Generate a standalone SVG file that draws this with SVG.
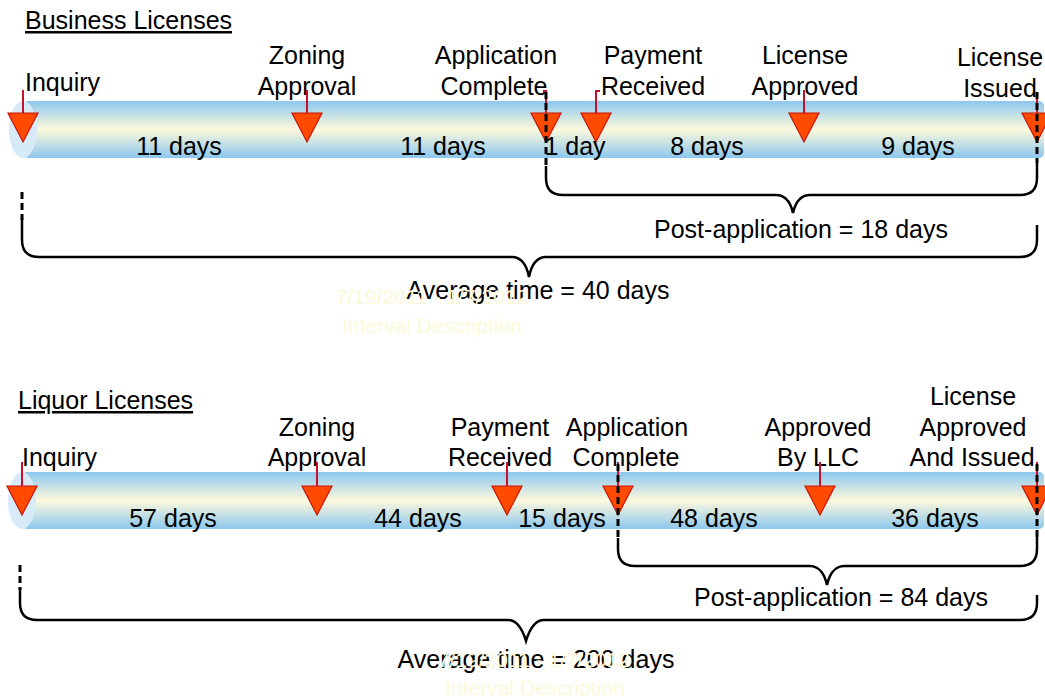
<svg xmlns="http://www.w3.org/2000/svg" width="1045" height="696" viewBox="0 0 1045 696">
<defs>
<linearGradient id="tube" x1="0" y1="0" x2="0" y2="1">
<stop offset="0" stop-color="#8cc7ee"/>
<stop offset="0.5" stop-color="#fdf9dc"/>
<stop offset="1" stop-color="#8cc7ee"/>
</linearGradient>
<polygon id="tri" points="-15,0 15,0 0,29" fill="#ff4a00" stroke="#c8140a" stroke-width="1.2"/>
</defs>
<style>
text{font-family:"Liberation Sans",Arial,sans-serif;font-size:25px;fill:#000}
.m{text-anchor:middle}
.h{text-decoration:underline}
.faint{font-size:21px;fill:#fdf8d9;text-anchor:middle}
.stem{stroke:#c8102e;stroke-width:2;fill:none}
.dash{stroke:#000;stroke-width:3;stroke-dasharray:7,4;fill:none}
.brace{stroke:#000;stroke-width:2.5;fill:none}
.cap{fill:#d6eaf8}
</style>
<rect width="1045" height="696" fill="#fff"/>

<!-- Business section -->
<g id="business-title"><text x="25" y="29" class="h">Business Licenses</text></g>
<g id="business-bar">
<rect x="23" y="101" width="1021" height="57" rx="5" fill="url(#tube)"/>
<ellipse cx="23" cy="129.5" rx="14" ry="28.5" class="cap"/>
</g>
<g id="b-inquiry"><text x="25" y="91">Inquiry</text><path class="stem" d="M23,90 V113"/><use href="#tri" x="23" y="113"/></g>
<g id="b-zoning"><text x="307" y="64" class="m">Zoning</text><text x="307" y="95" class="m">Approval</text><path class="stem" d="M307,90 V113"/><use href="#tri" x="307" y="113"/></g>
<g id="b-application"><text x="496" y="64" class="m">Application</text><text x="494" y="95" class="m">Complete</text><path class="stem" d="M543,91 H546 V113"/><use href="#tri" x="546" y="113"/></g>
<g id="b-payment"><text x="653" y="64" class="m">Payment</text><text x="653" y="95" class="m">Received</text><path class="stem" d="M600,91 H596 V113"/><use href="#tri" x="596" y="113"/></g>
<g id="b-approved"><text x="805" y="64" class="m">License</text><text x="805" y="95" class="m">Approved</text><path class="stem" d="M804,90 V113"/><use href="#tri" x="804" y="113"/></g>
<g id="b-issued"><text x="1000" y="66" class="m">License</text><text x="1000" y="97" class="m">Issued</text><path class="stem" d="M1037,92 V113"/><use href="#tri" x="1037" y="113"/></g>
<g id="b-days">
<text x="179" y="155" class="m">11 days</text>
<text x="443" y="155" class="m">11 days</text>
<text x="575" y="155" class="m">1 day</text>
<text x="707" y="155" class="m">8 days</text>
<text x="918" y="155" class="m">9 days</text>
</g>

<!-- Liquor section -->
<g id="liquor-title"><text x="18" y="409" class="h">Liquor Licenses</text></g>
<g id="liquor-bar">
<rect x="22" y="472" width="1022" height="57" rx="5" fill="url(#tube)"/>
<ellipse cx="22" cy="500.5" rx="14" ry="28.5" class="cap"/>
</g>
<g id="l-inquiry"><text x="22" y="466">Inquiry</text><path class="stem" d="M22,462 V486"/><use href="#tri" x="22" y="486"/></g>
<g id="l-zoning"><text x="317" y="436" class="m">Zoning</text><text x="317" y="466" class="m">Approval</text><path class="stem" d="M317,462 V486"/><use href="#tri" x="317" y="486"/></g>
<g id="l-payment"><text x="500" y="436" class="m">Payment</text><text x="500" y="466" class="m">Received</text><path class="stem" d="M507,462 V486"/><use href="#tri" x="507" y="486"/></g>
<g id="l-application"><text x="627" y="436" class="m">Application</text><text x="626" y="466" class="m">Complete</text><path class="stem" d="M618,462 V486"/><use href="#tri" x="618" y="486"/></g>
<g id="l-llc"><text x="818" y="436" class="m">Approved</text><text x="818" y="466" class="m">By LLC</text><path class="stem" d="M820,462 V486"/><use href="#tri" x="820" y="486"/></g>
<g id="l-issued"><text x="973" y="405" class="m">License</text><text x="973" y="436" class="m">Approved</text><text x="972" y="466" class="m">And Issued</text><path class="stem" d="M1037,462 V486"/><use href="#tri" x="1037" y="486"/></g>
<g id="l-days">
<text x="173" y="527" class="m">57 days</text>
<text x="418" y="527" class="m">44 days</text>
<text x="562" y="527" class="m">15 days</text>
<text x="714" y="527" class="m">48 days</text>
<text x="935" y="527" class="m">36 days</text>
</g>

<!-- Connectors: dashed guides and braces -->
<g id="connectors">
<path class="dash" d="M546,92 V168 M1037,92 V163 M22,192 V220"/>
<path class="brace" d="M546,166 V178 Q546,195 563,195 H776 C786,195 791,204 793,213 C795,204 800,195 810,195 H1020 Q1037,195 1037,178 V163"/>
<path class="brace" d="M22,218 V240 Q22,257 39,257 H512 C522,257 527,267 529,277 C531,267 536,257 546,257 H1020 Q1037,257 1037,240 V225"/>
<path class="dash" d="M618,464 V540 M1037,464 V537 M20,565 V590"/>
<path class="brace" d="M618,538 V549 Q618,566 635,566 H810 C820,566 825,576 827,585 C829,576 834,566 844,566 H1020 Q1037,566 1037,549 V537"/>
<path class="brace" d="M20,588 V603 Q20,620 37,620 H508 C518,620 523,631 526,641 C529,631 534,620 544,620 H1020 Q1037,620 1037,603 V595"/>
</g>

<g id="brace-labels">
<text x="801" y="238" class="m">Post-application = 18 days</text>
<text x="538" y="299" class="m">Average time = 40 days</text>
<text x="841" y="606" class="m">Post-application = 84 days</text>
<text x="536" y="668" class="m">Average time = 200 days</text>
</g>

<g id="faint-labels">
<text x="432" y="304" class="faint">7/19/2011 - 1/7/2012</text>
<text x="432" y="333" class="faint">Interval Description</text>
<text x="534" y="667" class="faint">7/19/2011 - 1/7/2012</text>
<text x="535" y="695" class="faint">Interval Description</text>
</g>
</svg>
